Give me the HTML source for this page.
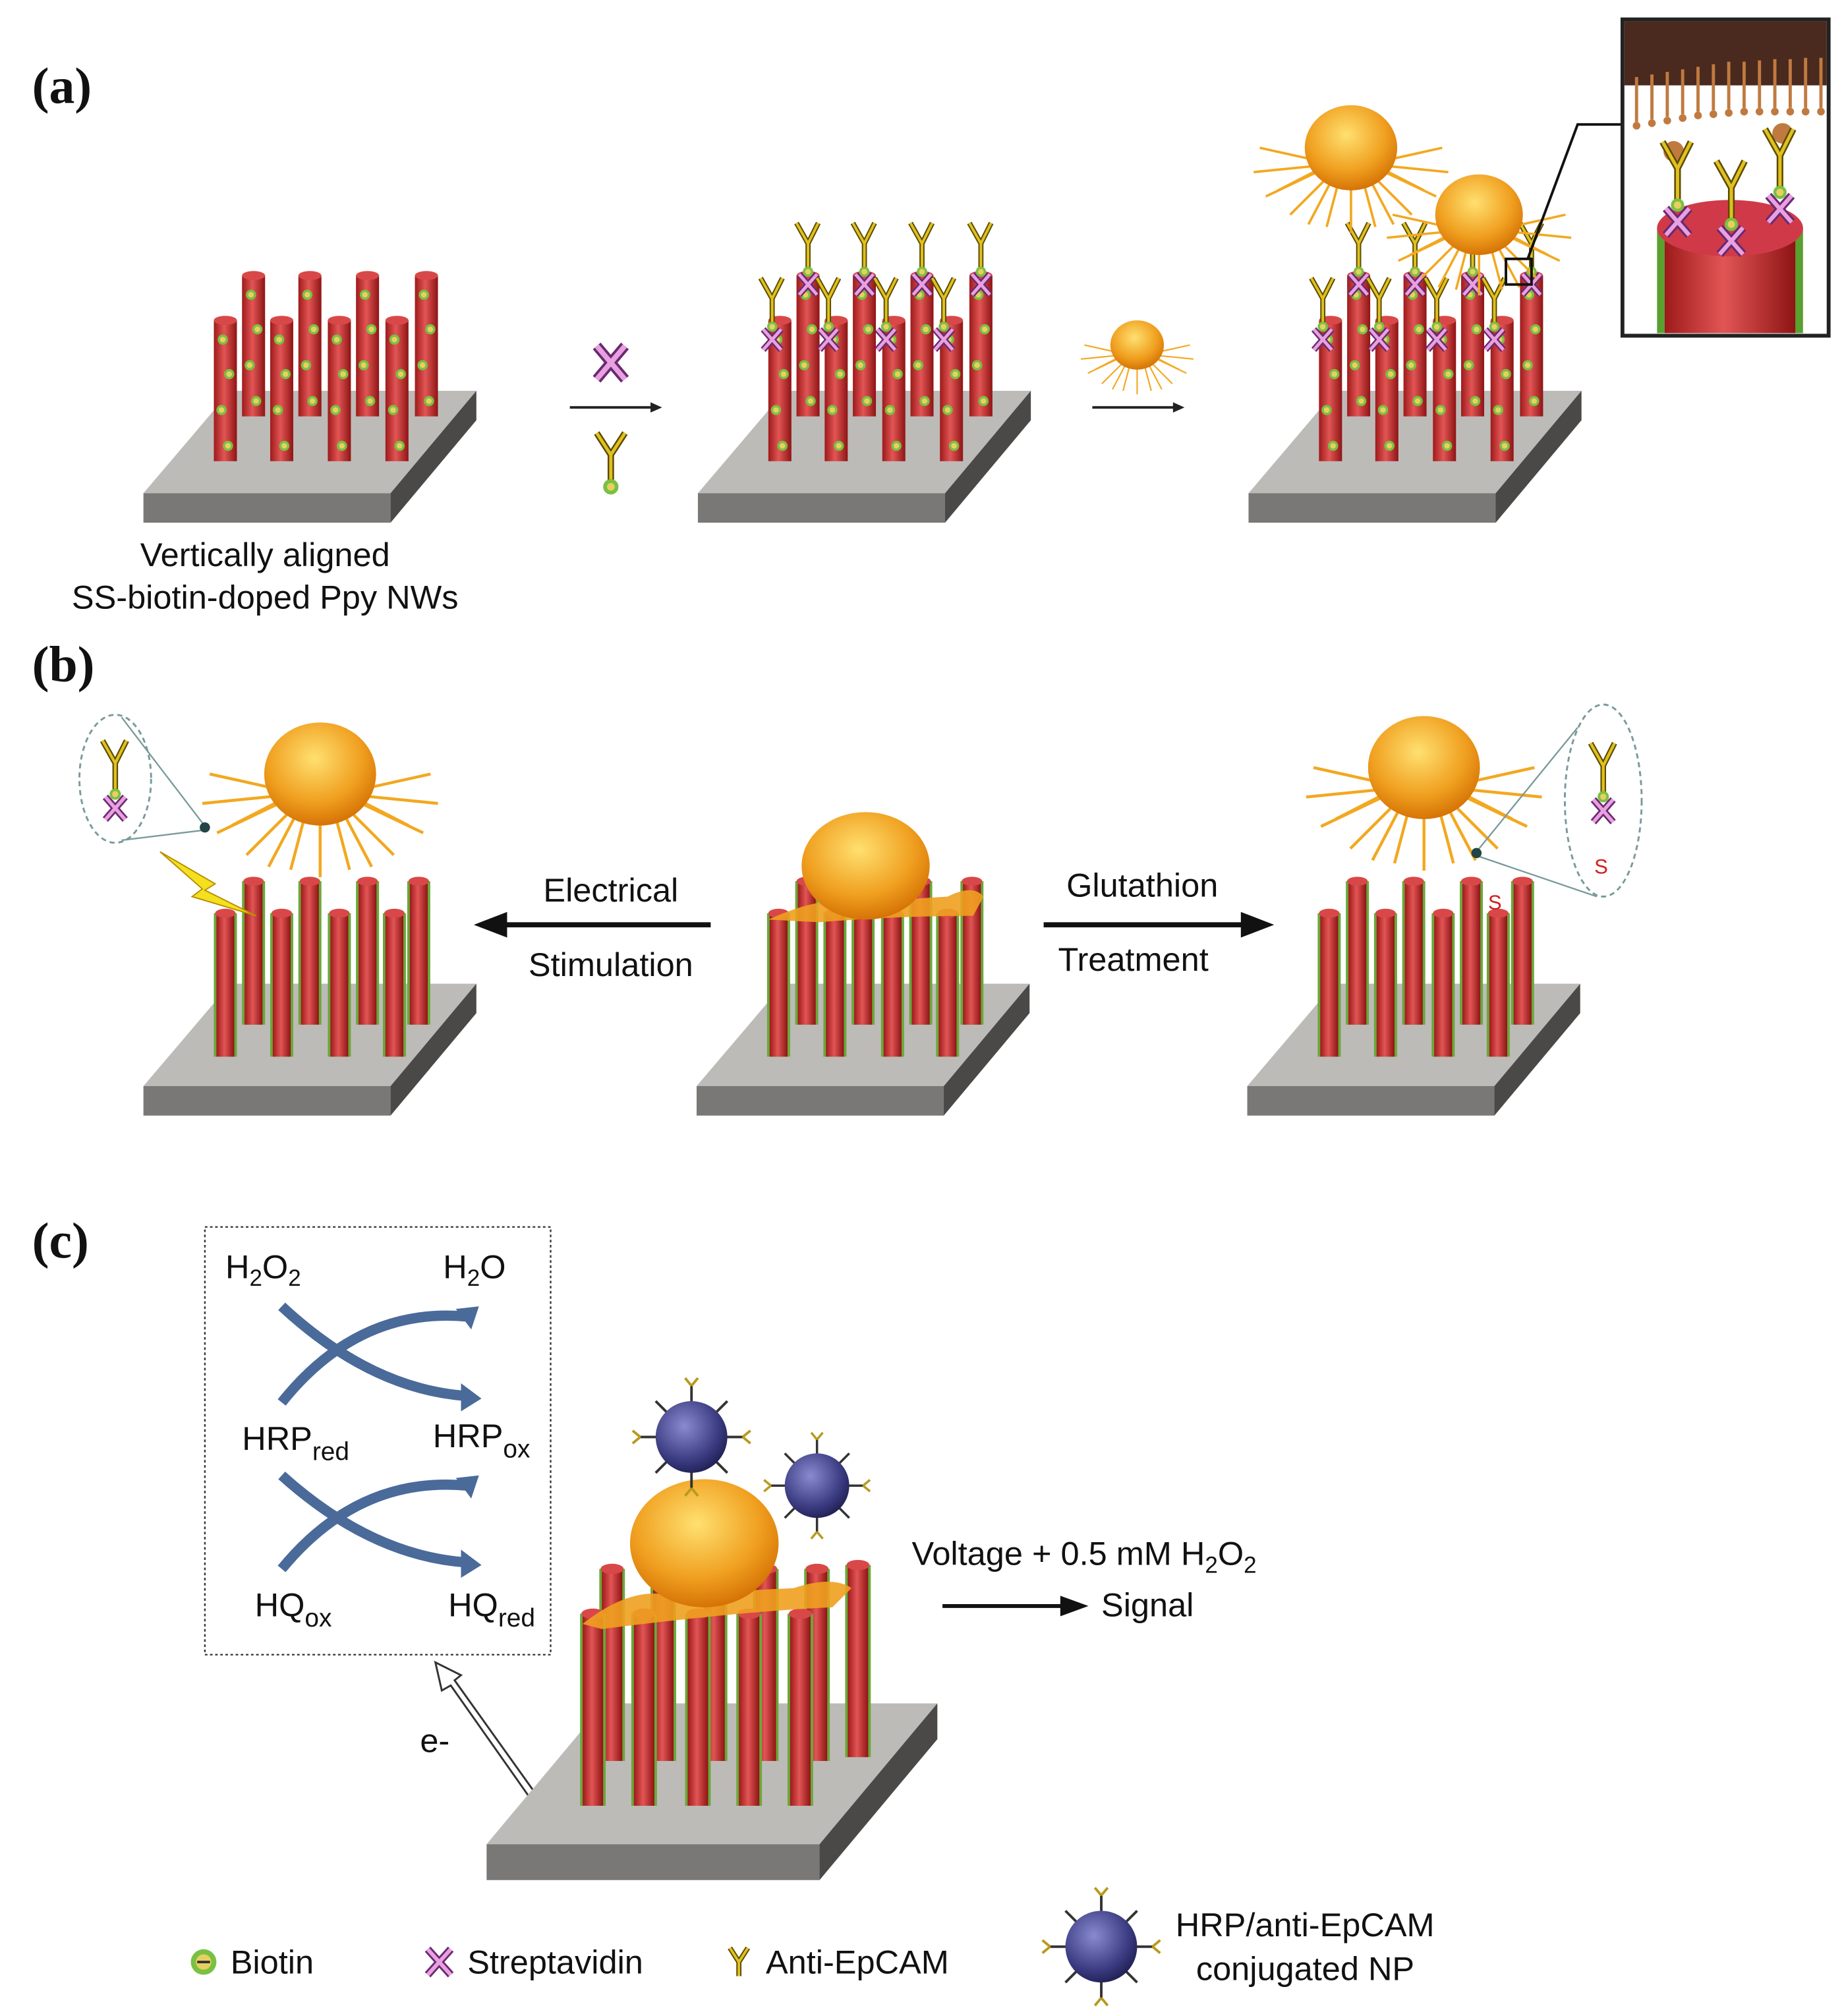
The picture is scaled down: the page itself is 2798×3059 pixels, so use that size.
<!DOCTYPE html>
<html><head><meta charset="utf-8">
<style>
html,body{margin:0;padding:0;background:#fff;}
svg{display:block;}
text{font-family:"Liberation Sans",sans-serif;fill:#111;}
.lab{font-family:"Liberation Serif",serif;font-weight:bold;font-size:40px;}
.t{font-size:26px;}
</style></head><body>
<svg width="2798" height="3059" viewBox="0 0 1440 1574" xmlns="http://www.w3.org/2000/svg" xmlns:xlink="http://www.w3.org/1999/xlink">
<defs>
<linearGradient id="rg" x1="0" x2="1" y1="0" y2="0">
<stop offset="0" stop-color="#9e1a1a"/><stop offset="0.45" stop-color="#e25555"/><stop offset="1" stop-color="#8e1414"/></linearGradient>
<radialGradient id="cg" cx="0.45" cy="0.35" r="0.7">
<stop offset="0" stop-color="#ffe070"/><stop offset="0.6" stop-color="#f0a020"/><stop offset="1" stop-color="#d06a00"/></radialGradient>
<radialGradient id="ng" cx="0.4" cy="0.35" r="0.7">
<stop offset="0" stop-color="#8a8ad0"/><stop offset="0.7" stop-color="#3a3a80"/><stop offset="1" stop-color="#1e1e50"/></radialGradient>
<g id="dot"><circle r="4" fill="#7ac043"/><circle r="2.2" fill="#e8d060"/></g>
<g id="wa"><rect x="-9" y="0" width="18" height="110" fill="url(#rg)"/><ellipse cx="0" cy="0" rx="9" ry="3.5" fill="#d84848"/>
<use xlink:href="#dot" x="-2" y="15"/><use xlink:href="#dot" x="3" y="42"/><use xlink:href="#dot" x="-3" y="70"/><use xlink:href="#dot" x="2" y="98"/></g>
<g id="wb"><rect x="-9" y="0" width="18" height="112" fill="#6aa83a"/><rect x="-7" y="0" width="14" height="112" fill="url(#rg)"/><ellipse cx="0" cy="0" rx="8" ry="3.5" fill="#d84848"/></g>
<g id="wc"><rect x="-10" y="0" width="20" height="150" fill="#6aa83a"/><rect x="-8" y="0" width="16" height="150" fill="url(#rg)"/><ellipse cx="0" cy="0" rx="9" ry="4" fill="#d84848"/></g>
<g id="ab"><path d="M0,0 L0,-22 M0,-22 L-9,-38 M0,-22 L8,-38" stroke="#5a4a00" stroke-width="4" fill="none"/><path d="M0,0 L0,-22 M0,-22 L-9,-38 M0,-22 L8,-38" stroke="#e0c020" stroke-width="2" fill="none"/>
<path d="M-7,2 L7,18 M7,2 L-7,18" stroke="#6a2a70" stroke-width="5"/><path d="M-7,2 L7,18 M7,2 L-7,18" stroke="#e8a0e0" stroke-width="2.5"/><use xlink:href="#dot" x="0" y="0"/></g>
<g id="cell"><g stroke="#f2a820" stroke-width="2" fill="none">
<path d="M-30,5 L-75,-5 M-30,10 L-80,15 M-28,15 L-70,35 M-20,20 L-50,50 M-10,22 L-20,60 M0,22 L0,65 M10,22 L20,60 M20,20 L50,50 M28,15 L70,35 M30,10 L80,15 M30,5 L75,-5 M-25,12 L-60,30 M25,12 L60,30 M-15,20 L-35,58 M15,20 L35,58"/></g>
<ellipse cx="0" cy="-5" rx="38" ry="35" fill="url(#cg)"/></g>
<g id="np"><g stroke="#333" stroke-width="2"><path d="M-40,0 H40 M0,-40 V40 M-28,-28 L28,28 M28,-28 L-28,28"/></g><g stroke="#b89a20" stroke-width="2" fill="none"><path d="M-40,0 l-6,-5 M-40,0 l-6,5 M40,0 l6,-5 M40,0 l6,5 M0,-40 l-5,-6 M0,-40 l5,-6 M0,40 l-5,6 M0,40 l5,6"/></g><circle r="28" fill="url(#ng)"/></g>
<g id="plateA"><polygon points="112,385 305,385 372,305 180,305" fill="#bdbbb8"/><polygon points="112,385 305,385 305,408 112,408" fill="#7a7876"/><polygon points="305,385 372,305 372,328 305,408" fill="#4a4948"/></g>
</defs>

<text class="lab" x="25" y="80">(a)</text>
<text class="lab" x="25" y="532">(b)</text>
<text class="lab" x="25" y="982">(c)</text>

<!-- a1 -->
<use xlink:href="#plateA"/>
<g><use xlink:href="#wa" x="198" y="215"/><use xlink:href="#wa" x="242" y="215"/><use xlink:href="#wa" x="287" y="215"/><use xlink:href="#wa" x="333" y="215"/>
<use xlink:href="#wa" x="176" y="250"/><use xlink:href="#wa" x="220" y="250"/><use xlink:href="#wa" x="265" y="250"/><use xlink:href="#wa" x="310" y="250"/></g>
<text class="t" x="207" y="442" text-anchor="middle">Vertically aligned</text>
<text class="t" x="207" y="475" text-anchor="middle">SS-biotin-doped Ppy NWs</text>
<path d="M445,318 H510" stroke="#222" stroke-width="2"/><path d="M517,318 l-9,-4 v8z" fill="#222"/>
<path d="M466,270 L488,296 M488,270 L466,296" stroke="#6a2a70" stroke-width="8"/><path d="M466,270 L488,296 M488,270 L466,296" stroke="#e8a0e0" stroke-width="4"/>
<g transform="translate(477,380)"><path d="M0,0 V-25 L-11,-42 M0,-25 L11,-42" stroke="#5a4a00" stroke-width="5" fill="none"/><path d="M0,0 V-25 L-11,-42 M0,-25 L11,-42" stroke="#e0c020" stroke-width="2.5" fill="none"/><circle r="6" fill="#7ac043"/><circle r="3" fill="#e8d060"/></g>

<!-- a2 -->
<use xlink:href="#plateA" x="433"/>
<g transform="translate(433,0)"><use xlink:href="#wa" x="198" y="215"/><use xlink:href="#wa" x="242" y="215"/><use xlink:href="#wa" x="287" y="215"/><use xlink:href="#wa" x="333" y="215"/>
<use xlink:href="#wa" x="176" y="250"/><use xlink:href="#wa" x="220" y="250"/><use xlink:href="#wa" x="265" y="250"/><use xlink:href="#wa" x="310" y="250"/>
<use xlink:href="#ab" x="198" y="212"/><use xlink:href="#ab" x="242" y="212"/><use xlink:href="#ab" x="287" y="212"/><use xlink:href="#ab" x="333" y="212"/>
<use xlink:href="#ab" x="170" y="255"/><use xlink:href="#ab" x="214" y="255"/><use xlink:href="#ab" x="259" y="255"/><use xlink:href="#ab" x="304" y="255"/></g>
<path d="M853,318 H918" stroke="#222" stroke-width="2"/><path d="M925,318 l-9,-4 v8z" fill="#222"/>
<use xlink:href="#cell" transform="translate(888,272) scale(0.55)"/>

<!-- a3 -->
<use xlink:href="#plateA" x="863"/>
<g transform="translate(863,0)"><use xlink:href="#wa" x="198" y="215"/><use xlink:href="#wa" x="242" y="215"/><use xlink:href="#wa" x="287" y="215"/><use xlink:href="#wa" x="333" y="215"/>
<use xlink:href="#wa" x="176" y="250"/><use xlink:href="#wa" x="220" y="250"/><use xlink:href="#wa" x="265" y="250"/><use xlink:href="#wa" x="310" y="250"/>
<use xlink:href="#ab" x="198" y="212"/><use xlink:href="#ab" x="242" y="212"/><use xlink:href="#ab" x="287" y="212"/><use xlink:href="#ab" x="333" y="212"/>
<use xlink:href="#ab" x="170" y="255"/><use xlink:href="#ab" x="214" y="255"/><use xlink:href="#ab" x="259" y="255"/><use xlink:href="#ab" x="304" y="255"/></g>
<use xlink:href="#cell" transform="translate(1055,120) scale(0.95)"/>
<use xlink:href="#cell" transform="translate(1155,172) scale(0.9)"/>
<rect x="1176" y="202" width="20" height="20" fill="none" stroke="#111" stroke-width="2"/>
<path d="M1193,202 L1232,97 H1268" stroke="#111" stroke-width="2" fill="none"/>
<rect x="1267" y="15" width="161" height="247" fill="#fff" stroke="#222" stroke-width="3"/>
<rect x="1268.5" y="16.5" width="158" height="50" fill="#4a2a1e"/>
<g stroke="#c07a40" stroke-width="2.5">
<path d="M1278,60 V95 M1290,58 V93 M1302,56 V91 M1314,54 V89 M1326,52 V87 M1338,50 V86 M1350,48 V85 M1362,48 V84 M1374,47 V84 M1386,46 V84 M1398,46 V84 M1410,45 V84 M1422,45 V84"/></g>
<g fill="#c07a40"><circle cx="1278" cy="98" r="3"/><circle cx="1290" cy="96" r="3"/><circle cx="1302" cy="94" r="3"/><circle cx="1314" cy="92" r="3"/><circle cx="1326" cy="90" r="3"/><circle cx="1338" cy="89" r="3"/><circle cx="1350" cy="88" r="3"/><circle cx="1362" cy="87" r="3"/><circle cx="1374" cy="87" r="3"/><circle cx="1386" cy="87" r="3"/><circle cx="1398" cy="87" r="3"/><circle cx="1410" cy="87" r="3"/><circle cx="1422" cy="87" r="3"/>
<circle cx="1307" cy="118" r="8"/><circle cx="1392" cy="104" r="8"/></g>
<rect x="1294" y="178" width="114" height="82" fill="#5aa030"/><rect x="1300" y="178" width="102" height="82" fill="url(#rg)"/>
<ellipse cx="1351" cy="178" rx="57" ry="22" fill="#d03a48"/>
<use xlink:href="#ab" transform="translate(1310,160) scale(1.3)"/><use xlink:href="#ab" transform="translate(1352,175) scale(1.3)"/><use xlink:href="#ab" transform="translate(1390,150) scale(1.3)"/>

<!-- b -->
<g transform="translate(0,463)"><use xlink:href="#plateA"/></g>
<g><use xlink:href="#wb" x="198" y="688"/><use xlink:href="#wb" x="242" y="688"/><use xlink:href="#wb" x="287" y="688"/><use xlink:href="#wb" x="327" y="688"/>
<use xlink:href="#wb" x="176" y="713"/><use xlink:href="#wb" x="220" y="713"/><use xlink:href="#wb" x="265" y="713"/><use xlink:href="#wb" x="308" y="713"/></g>
<use xlink:href="#cell" transform="translate(250,610) scale(1.15)"/>
<ellipse cx="90" cy="608" rx="28" ry="50" fill="none" stroke="#7a9a9a" stroke-width="1.5" stroke-dasharray="4,3"/>
<path d="M95,560 L160,645 M95,656 L160,648" stroke="#7a9a9a" stroke-width="1.2"/>
<circle cx="160" cy="646" r="4" fill="#244"/>
<use xlink:href="#ab" transform="translate(90,620) scale(1.1)"/>
<polygon points="125,665 168,690 160,695 200,715 150,700 158,694" fill="#f5e020" stroke="#b89000"/>
<text class="t" x="477" y="704" text-anchor="middle">Electrical</text>
<text class="t" x="477" y="762" text-anchor="middle">Stimulation</text>
<path d="M555,722 H390" stroke="#111" stroke-width="4"/><path d="M370,722 l26,-10 v20z" fill="#111"/>

<g transform="translate(432,463)"><use xlink:href="#plateA"/></g>
<g transform="translate(432,0)"><use xlink:href="#wb" x="198" y="688"/><use xlink:href="#wb" x="242" y="688"/><use xlink:href="#wb" x="287" y="688"/><use xlink:href="#wb" x="327" y="688"/>
<use xlink:href="#wb" x="176" y="713"/><use xlink:href="#wb" x="220" y="713"/><use xlink:href="#wb" x="265" y="713"/><use xlink:href="#wb" x="308" y="713"/></g>
<path d="M600,718 Q640,700 660,705 L740,700 Q760,690 768,700 L760,715 Q700,715 640,720 Z" fill="#f0a020" opacity="0.9"/>
<ellipse cx="676" cy="676" rx="50" ry="42" fill="url(#cg)"/>

<text class="t" x="892" y="700" text-anchor="middle">Glutathion</text>
<text class="t" x="885" y="758" text-anchor="middle">Treatment</text>
<path d="M815,722 H975" stroke="#111" stroke-width="4"/><path d="M995,722 l-26,-10 v20z" fill="#111"/>

<g transform="translate(862,463)"><use xlink:href="#plateA"/></g>
<g transform="translate(862,0)"><use xlink:href="#wb" x="198" y="688"/><use xlink:href="#wb" x="242" y="688"/><use xlink:href="#wb" x="287" y="688"/><use xlink:href="#wb" x="327" y="688"/>
<use xlink:href="#wb" x="176" y="713"/><use xlink:href="#wb" x="220" y="713"/><use xlink:href="#wb" x="265" y="713"/><use xlink:href="#wb" x="308" y="713"/></g>
<text x="1162" y="710" font-size="16" style="fill:#d02020">S</text>
<use xlink:href="#cell" transform="translate(1112,605) scale(1.15)"/>
<ellipse cx="1252" cy="625" rx="30" ry="75" fill="none" stroke="#7a9a9a" stroke-width="1.5" stroke-dasharray="4,3"/>
<path d="M1232,568 L1153,665 M1247,700 L1153,668" stroke="#7a9a9a" stroke-width="1.2"/>
<circle cx="1153" cy="666" r="4" fill="#244"/>
<use xlink:href="#ab" transform="translate(1252,622) scale(1.1)"/>
<text x="1245" y="682" font-size="16" style="fill:#d02020">S</text>

<!-- c -->
<rect x="160" y="958" width="270" height="334" fill="none" stroke="#333" stroke-width="1.2" stroke-dasharray="2,2"/>
<text class="t" x="176" y="998">H<tspan font-size="18" dy="6">2</tspan><tspan dy="-6">O</tspan><tspan font-size="18" dy="6">2</tspan></text>
<text class="t" x="346" y="998">H<tspan font-size="18" dy="6">2</tspan><tspan dy="-6">O</tspan></text>
<text class="t" x="189" y="1132">HRP<tspan font-size="20" dy="8">red</tspan></text>
<text class="t" x="338" y="1130">HRP<tspan font-size="20" dy="8">ox</tspan></text>
<text class="t" x="199" y="1262">HQ<tspan font-size="20" dy="8">ox</tspan></text>
<text class="t" x="350" y="1262">HQ<tspan font-size="20" dy="8">red</tspan></text>
<g fill="none" stroke="#4a6a9a" stroke-width="8">
<path d="M220,1020 Q290,1085 365,1090"/><path d="M220,1095 Q280,1020 365,1028"/>
<path d="M220,1152 Q290,1215 365,1220"/><path d="M220,1225 Q280,1152 365,1160"/></g>
<g fill="#4a6a9a"><path d="M376,1092 l-16,-12 v22z"/><path d="M374,1020 l-18,2 l12,16z"/><path d="M376,1222 l-16,-12 v22z"/><path d="M374,1152 l-18,2 l12,16z"/></g>
<text class="t" x="328" y="1368">e-</text>
<path d="M421,1414 L352,1316 L345,1320 L340,1298 L360,1308 L355,1312 L425,1410 Z" fill="#fff" stroke="#333" stroke-width="1.5"/>

<polygon points="380,1440 640,1440 732,1330 472,1330" fill="#bdbbb8"/>
<polygon points="380,1440 640,1440 640,1468 380,1468" fill="#7a7876"/>
<polygon points="640,1440 732,1330 732,1358 640,1468" fill="#4a4948"/>
<g><use xlink:href="#wc" x="478" y="1225"/><use xlink:href="#wc" x="518" y="1225"/><use xlink:href="#wc" x="558" y="1225"/><use xlink:href="#wc" x="598" y="1225"/><use xlink:href="#wc" x="638" y="1225"/><use xlink:href="#wc" x="670" y="1222"/>
<use xlink:href="#wc" x="463" y="1260"/><use xlink:href="#wc" x="503" y="1260"/><use xlink:href="#wc" x="545" y="1260"/><use xlink:href="#wc" x="585" y="1260"/><use xlink:href="#wc" x="625" y="1260"/></g>
<path d="M455,1268 Q490,1240 520,1245 L620,1240 Q650,1230 665,1240 L650,1255 Q580,1258 470,1272 Z" fill="#f0a020" opacity="0.9"/>
<ellipse cx="550" cy="1205" rx="58" ry="50" fill="url(#cg)"/>
<use xlink:href="#np" x="540" y="1122"/><use xlink:href="#np" transform="translate(638,1160) scale(0.9)"/>

<text class="t" x="712" y="1222">Voltage + 0.5 mM H<tspan font-size="18" dy="6">2</tspan><tspan dy="-6">O</tspan><tspan font-size="18" dy="6">2</tspan></text>
<path d="M736,1254 H830" stroke="#111" stroke-width="3"/><path d="M850,1254 l-22,-8 v16z" fill="#111"/>
<text class="t" x="860" y="1262">Signal</text>

<!-- legend -->
<circle cx="159" cy="1532" r="10" fill="#7ac043"/><circle cx="159" cy="1532" r="6" fill="#e8d060"/><rect x="154" y="1531" width="10" height="2" fill="#333"/>
<text class="t" x="180" y="1541">Biotin</text>
<path d="M334,1522 L352,1542 M352,1522 L334,1542" stroke="#6a2a70" stroke-width="6"/><path d="M334,1522 L352,1542 M352,1522 L334,1542" stroke="#e8a0e0" stroke-width="3"/>
<text class="t" x="365" y="1541">Streptavidin</text>
<path d="M577,1543 V1532 L570,1521 M577,1532 L584,1521" stroke="#5a4a00" stroke-width="4" fill="none"/><path d="M577,1543 V1532 L570,1521 M577,1532 L584,1521" stroke="#e0c020" stroke-width="2" fill="none"/>
<text class="t" x="598" y="1541">Anti-EpCAM</text>
<use xlink:href="#np" x="860" y="1520"/>
<text class="t" x="918" y="1512">HRP/anti-EpCAM</text>
<text class="t" x="934" y="1546">conjugated NP</text>
</svg>
</body></html>
